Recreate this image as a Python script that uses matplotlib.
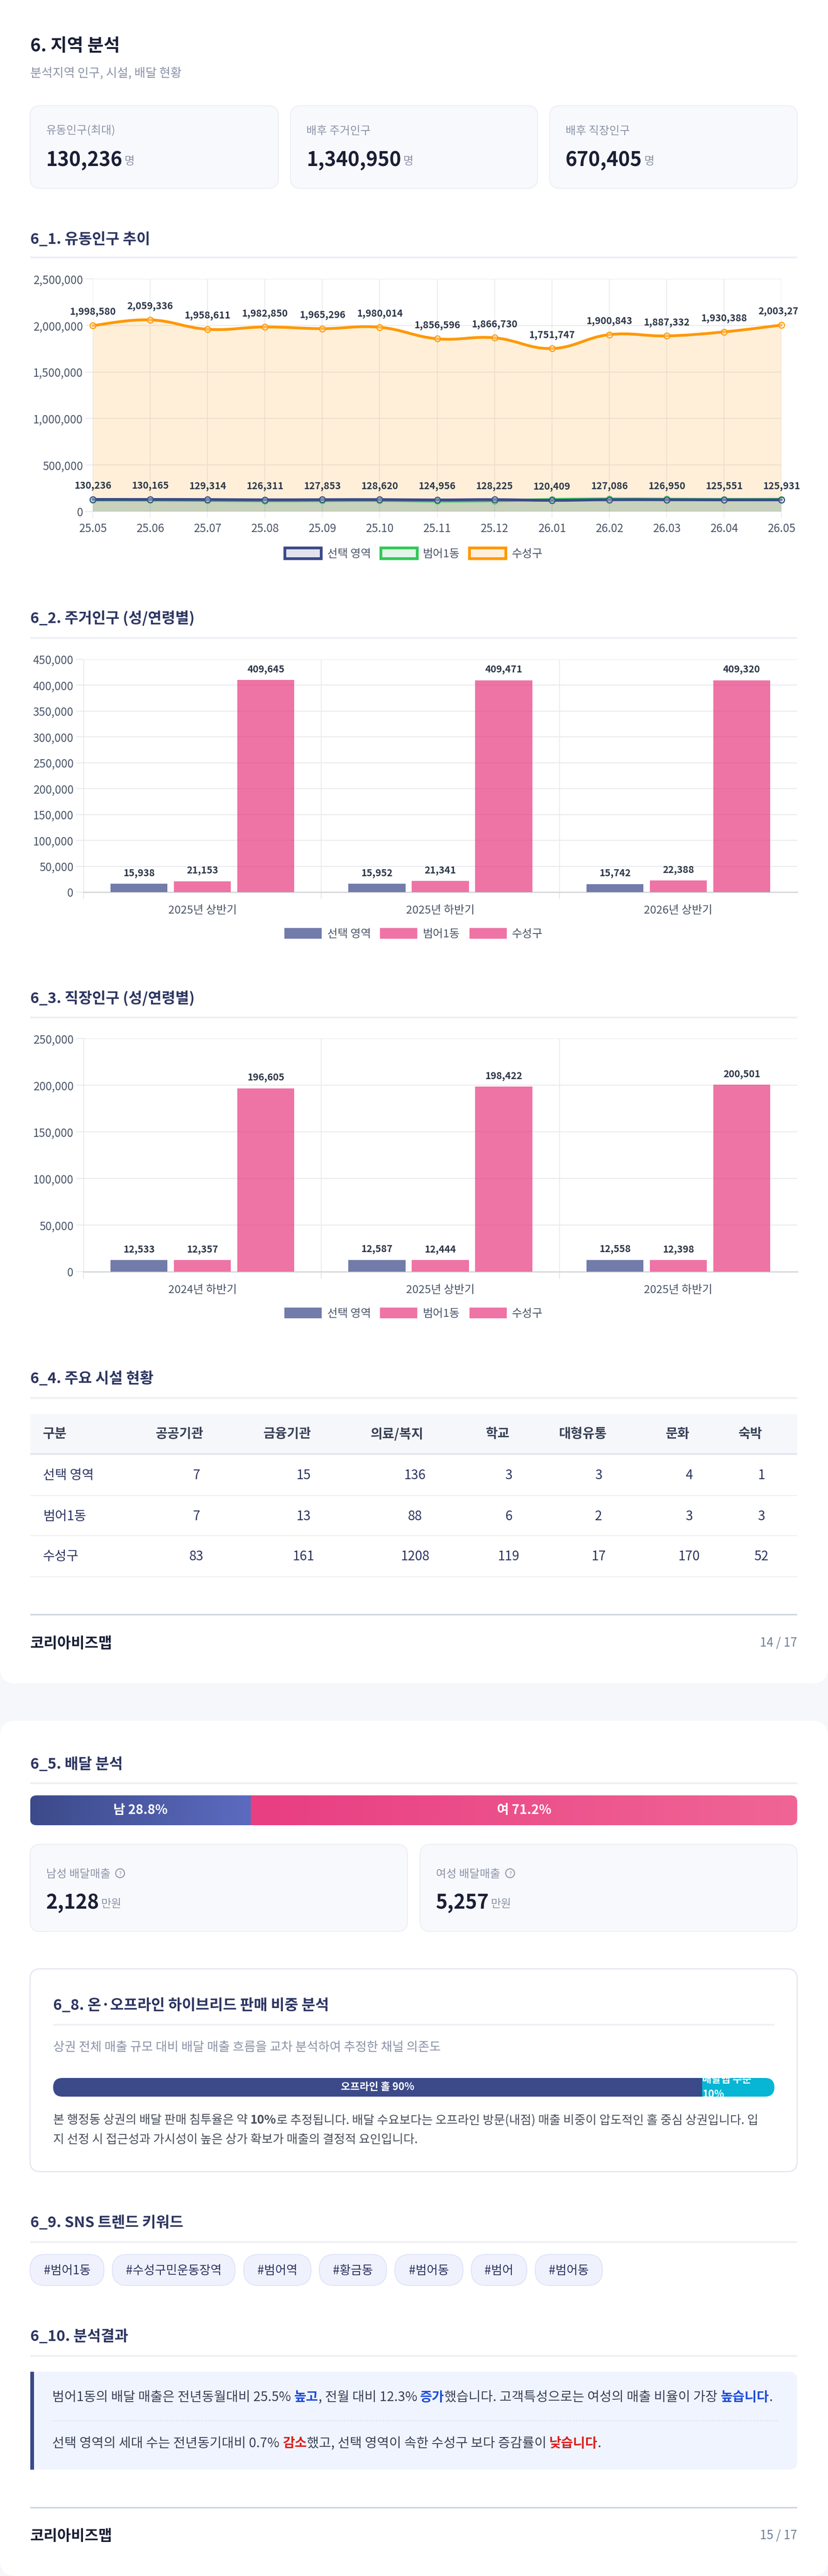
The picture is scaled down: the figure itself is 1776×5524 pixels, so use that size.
import numpy as np
import matplotlib
matplotlib.use('Agg')
import matplotlib.pyplot as plt
from matplotlib.patches import FancyBboxPatch, Rectangle, Circle, PathPatch
from matplotlib.path import Path
from matplotlib.transforms import Bbox

plt.rcParams['font.family'] = ['Noto Sans CJK KR', 'DejaVu Sans']

# data
months = ['25.05', '25.06', '25.07', '25.08', '25.09', '25.10', '25.11', '25.12', '26.01', '26.02', '26.03', '26.04', '26.05']
float_selected = [130236, 130165, 129314, 126311, 127853, 128620, 124956, 128225, 120409, 127086, 126950, 125551, 125931]
float_dong = [124000, 123000, 120000, 116000, 118000, 120000, 113000, 117000, 130000, 135000, 133000, 131000, 132000]
float_gu = [1998580, 2059336, 1958611, 1982850, 1965296, 1980014, 1856596, 1866730, 1751747, 1900843, 1887332, 1930388, 2003270]

legend_names = ['선택 영역', '범어1동', '수성구']

resident_periods = ['2025년 상반기', '2025년 하반기', '2026년 상반기']
resident_selected = [15938, 15952, 15742]
resident_dong = [21153, 21341, 22388]
resident_gu = [409645, 409471, 409320]

worker_periods = ['2024년 하반기', '2025년 상반기', '2025년 하반기']
worker_selected = [12533, 12587, 12558]
worker_dong = [12357, 12444, 12398]
worker_gu = [196605, 198422, 200501]

table_head = ['구분', '공공기관', '금융기관', '의료/복지', '학교', '대형유통', '문화', '숙박']
table_names = ['선택 영역', '범어1동', '수성구']
table_selected = [7, 15, 136, 3, 3, 4, 1]
table_dong = [7, 13, 88, 6, 2, 3, 3]
table_gu = [83, 161, 1208, 119, 17, 170, 52]

gender_share = [28.8, 71.2]
channel_share = [90, 10]
keywords = ['#범어1동', '#수성구민운동장역', '#범어역', '#황금동', '#범어동', '#범어', '#범어동']

W, H = 1776, 5524
NAVY = '#3c4a8a'
ORANGE = '#ff9800'
GREEN = '#34c759'
PINK = '#e83e82'
TITLE = '#2d3561'
DARK = '#1a1f36'
GRAY = '#8b93a7'
TICK = '#4a5568'
LABEL = '#2d3748'
GRID = '#eaebef'

fig = plt.figure(figsize=(W / 100, H / 100), dpi=100, facecolor='#f5f7fb')
ov = fig.add_axes([0, 0, 1, 1])
ov.set_xlim(0, W)
ov.set_ylim(H, 0)
ov.axis('off')


def txt(x, y, s, size, color=DARK, weight='normal', ha='left', **kw):
    # y is the visual middle of the glyphs, size is in pixels
    return ov.text(x, y + 0.36 * size, s, fontsize=size * 0.72, color=color, fontweight=weight,
                   ha=ha, va='baseline', **kw)


def right_edge(t):
    return ov.transData.inverted().transform(t.get_window_extent(fig.canvas.get_renderer()).p1)[0]


def rich(x, y, parts, size):
    for s, color, weight in parts:
        x = right_edge(txt(x, y, s, size, color, weight))


def rbox(x0, y0, x1, y1, r, fc, ec='none', lw=0, z=1):
    p = FancyBboxPatch((x0, y0), x1 - x0, y1 - y0, boxstyle=f'round,pad=0,rounding_size={r}',
                       fc=fc, ec=ec, lw=lw * 0.72, zorder=z)
    ov.add_patch(p)
    return p


def rect(x0, y0, x1, y1, fc, ec='none', lw=0, z=2):
    ov.add_patch(Rectangle((x0, y0), x1 - x0, y1 - y0, fc=fc, ec=ec, lw=lw * 0.72, zorder=z))


def section(y, line_y, s, x0=64.5, x1=1710):
    txt(x0, y, s, 32, TITLE, 'bold')
    rect(x0, line_y - 2, x1, line_y + 2, '#eff0f5')


def chart_axes(x0, y0, x1, y1):
    ax = fig.add_axes([x0 / W, 1 - y1 / H, (x1 - x0) / W, (y1 - y0) / H])
    ax.patch.set_alpha(0)
    for s in ax.spines.values():
        s.set_visible(False)
    ax.set_axisbelow(True)
    return ax


def smooth_path(xs, ys, base=None, t=0.2):
    # bezier through the points, same idea as a chart.js line with tension
    verts = [(xs[0], ys[0])]
    codes = [Path.MOVETO]
    n = len(xs)
    for i in range(n - 1):
        a = max(i - 1, 0)
        b = min(i + 2, n - 1)
        verts.append((xs[i] + t * (xs[i + 1] - xs[a]), ys[i] + t * (ys[i + 1] - ys[a])))
        verts.append((xs[i + 1] - t * (xs[b] - xs[i]), ys[i + 1] - t * (ys[b] - ys[i])))
        verts.append((xs[i + 1], ys[i + 1]))
        codes += [Path.CURVE4] * 3
    if base is not None:
        verts += [(xs[-1], base), (xs[0], base), (xs[0], ys[0])]
        codes += [Path.LINETO, Path.LINETO, Path.CLOSEPOLY]
    return Path(verts, codes)


# page cards
rbox(0, -60, W, 3610, 34, 'white')
rbox(0, 3690, W, H, 34, 'white')

# header
txt(64.5, 96, '6. 지역 분석', 38, DARK, 'bold')
txt(64.5, 157, '분석지역 인구, 시설, 배달 현황', 26, GRAY)

cards = [(64.5, 597, '유동인구(최대)', '130,236', '명'),
         (623, 1153, '배후 주거인구', '1,340,950', '명'),
         (1179, 1710, '배후 직장인구', '670,405', '명')]
for x0, x1, name, val, unit in cards:
    rbox(x0, 226.5, x1, 404, 22, '#f8f9fd', '#eceef4', 2)
    txt(x0 + 34, 279, name, 24, GRAY)
    x_end = right_edge(txt(x0 + 34, 340, val, 42.5, DARK, 'bold'))
    txt(x_end + 4, 344, unit, 24, GRAY)

# 6_1 floating population
section(511, 552, '6_1. 유동인구 추이')
ax = chart_axes(199, 598, 1676, 1097)
xs = np.arange(len(months))
ax.set_xlim(0, len(months) - 1)
ax.set_ylim(0, 2500000)
series = [(float_gu, ORANGE), (float_dong, GREEN), (float_selected, NAVY)]
for z, (vals, col) in enumerate(series):
    ax.add_patch(PathPatch(smooth_path(xs, vals, base=0), fc=col, ec='none', alpha=0.15, zorder=1 + z * 0.1))
    ax.add_patch(PathPatch(smooth_path(xs, vals), fc='none', ec=col, lw=4.3, zorder=3 + z, clip_on=False,
                           capstyle='round'))
    ax.plot(xs, vals, 'o', ms=9, mfc=(1, 1, 1, 0.3), mec=col, mew=1.6, zorder=3.5 + z, clip_on=False)
ax.set_xticks(xs)
ax.set_xticklabels(months)
ax.set_yticks([0, 500000, 1000000, 1500000, 2000000, 2500000])
ax.set_yticklabels([f'{v:,}' for v in [0, 500000, 1000000, 1500000, 2000000, 2500000]])
ax.grid(True, color=GRID, lw=1.5)
ax.grid(True, axis='x', color='#e6e7eb', lw=1.1)
ax.tick_params(axis='y', length=11.5, width=1.5, color=GRID, labelsize=17.3, labelcolor=TICK, pad=3.5)
ax.tick_params(axis='x', length=10, width=1.1, color=GRID, labelsize=17.3, labelcolor=TICK, pad=7)
# the labels run into the canvas edge on the right, the top one is cut there
for vals, edge in ((float_gu, 1710.5), (float_selected, 1716)):
    for x, v in zip(xs, vals):
        a = ax.annotate(f'{v:,}', (x, v), xytext=(0, 21), textcoords='offset points', ha='center', va='center',
                        fontsize=14.9, fontweight='bold', color=LABEL, annotation_clip=False, zorder=9)
        a.set_clip_on(True)
        a.set_clip_box(Bbox([[0, 0], [edge, H]]))

for (x0, x1, tx), name, col in zip([(608, 692, 702), (814, 898, 907), (1004, 1088, 1098)], legend_names,
                                   [NAVY, GREEN, ORANGE]):
    ov.add_patch(Rectangle((x0 + 3, 1175), x1 - x0 - 6, 23, fc=matplotlib.colors.to_rgba(col, 0.15), ec=col, lw=4.3,
                           zorder=2))
    txt(tx, 1186, name, 24, TICK)


def bar_chart(top, zero, ymax, step, periods, groups):
    ax = chart_axes(179, top, 1710, zero)
    ax.set_xlim(0, 3)
    ax.set_ylim(0, ymax)
    cols = [NAVY, PINK, PINK]
    for j, (vals, col) in enumerate(zip(groups, cols)):
        pos = [i + 0.5 + (j - 1) * 0.2665 for i in range(3)]
        ax.bar(pos, vals, width=0.24, color=col, alpha=0.72, zorder=3)
        for p, v in zip(pos, vals):
            ax.annotate(f'{v:,}', (p, v), xytext=(0, 16.5), textcoords='offset points', ha='center', va='center',
                        fontsize=14.9, fontweight='bold', color=LABEL, annotation_clip=False)
    ticks = list(range(0, ymax + 1, step))
    ax.set_yticks(ticks)
    ax.set_yticklabels([f'{v:,}' for v in ticks])
    ax.set_xticks([0, 1, 2])
    ax.set_xticklabels([])
    ax.grid(True, axis='y', color=GRID, lw=1.5)
    ax.grid(True, axis='x', color='#e6e7eb', lw=1.1)
    ax.axhline(0, color='#d9dade', lw=2.2, zorder=2, clip_on=False)
    ax.axvline(0, color='#d5d7dc', lw=1.1, zorder=1)
    ax.tick_params(axis='y', length=11.5, width=1.5, color=GRID, labelsize=17.3, labelcolor=TICK, pad=4)
    ax.tick_params(axis='x', length=10.8, width=1.1, color='#e0e1e5')
    for i, name in enumerate(periods):
        txt(179 + (i + 0.5) * 510.3, zero + 37, name, 24, TICK, ha='center')
    ly = zero + 88
    for (x0, x1, tx), name, col in zip([(610, 690, 702), (815, 895, 907), (1007, 1087, 1098)], legend_names, cols):
        ov.add_patch(Rectangle((x0, ly - 11.5), x1 - x0, 23.5, fc=matplotlib.colors.to_rgba(col, 0.72), zorder=2))
        txt(tx, ly, name, 24, TICK)


# 6_2, 6_3
section(1324, 1368, '6_2. 주거인구 (성/연령별)')
bar_chart(1413.6, 1913, 450000, 50000, resident_periods, [resident_selected, resident_dong, resident_gu])
section(2139, 2182, '6_3. 직장인구 (성/연령별)')
bar_chart(2227, 2727, 250000, 50000, worker_periods, [worker_selected, worker_dong, worker_gu])

# 6_4 table
section(2954, 2998, '6_4. 주요 시설 현황')
rect(64.5, 3032, 1710, 3116, '#f5f7fb')
rect(64.5, 3116, 1710, 3120, '#e2e8f0')
head_x = [92, 334, 565, 795, 1042, 1198, 1428, 1584]
val_x = [421, 651, 890, 1091, 1284, 1478, 1633]
for x, s in zip(head_x, table_head):
    txt(x, 3073, s, 28, '#3a4257', 'bold')
row_y = [3162, 3250, 3336]
line_y = [3207, 3293, 3381]
for y, ly, name, vals in zip(row_y, line_y, table_names, [table_selected, table_dong, table_gu]):
    txt(92, y, name, 28, TITLE)
    for x, v in zip(val_x, vals):
        txt(x, y, str(v), 28, TITLE, ha='center')
    rect(64.5, ly - 1, 1710, ly + 1, '#eff0f5')


def footer(line, y, page):
    rect(64.5, line - 1.5, 1710, line + 1.5, '#cbd5e0')
    txt(64.5, y, '코리아비즈맵', 32, DARK, 'bold')
    txt(1710, y, page, 26, '#718096', ha='right')


footer(3462.5, 3522, '14 / 17')

# 6_5 delivery
section(3781, 3824, '6_5. 배달 분석')
clip_patch = rbox(64.5, 3850, 1710, 3914, 14, 'none')
ax = chart_axes(64.5, 3850, 1710, 3914)
grad = np.linspace(0, 1, 256).reshape(1, -1)
male = matplotlib.colors.LinearSegmentedColormap.from_list('m', ['#3c4a8a', '#5c6bc0'])
female = matplotlib.colors.LinearSegmentedColormap.from_list('f', ['#e83e82', '#f06595'])
im1 = ax.imshow(grad, extent=(0, gender_share[0], 0, 1), cmap=male, aspect='auto')
im2 = ax.imshow(grad, extent=(gender_share[0], 100, 0, 1), cmap=female, aspect='auto')
ax.set_xlim(0, 100)
ax.set_ylim(0, 1)
ax.set_xticks([])
ax.set_yticks([])
im1.set_clip_path(clip_patch)
im2.set_clip_path(clip_patch)
ax.text(gender_share[0] / 2, 0.5, f'남 {gender_share[0]}%', color='white', fontsize=20, fontweight='bold', ha='center', va='center')
ax.text(gender_share[0] + gender_share[1] / 2, 0.5, f'여 {gender_share[1]}%', color='white', fontsize=20, fontweight='bold', ha='center', va='center')

for x0, x1, name, val in [(64.5, 874, '남성 배달매출', '2,128'), (901, 1710, '여성 배달매출', '5,257')]:
    rbox(x0, 3955, x1, 4142, 22, '#f8f9fd', '#eceef4', 2)
    x_end = right_edge(txt(x0 + 34, 4017, name, 24, GRAY))
    ov.add_patch(Circle((x_end + 21, 4017), 9.5, fc='none', ec=GRAY, lw=1.5, zorder=3))
    txt(x_end + 21, 4017, '?', 13, GRAY, ha='center')
    x_end = right_edge(txt(x0 + 34, 4077, val, 42.5, DARK, 'bold'))
    txt(x_end + 4, 4081, '만원', 24, GRAY)

# 6_8 channel split
rbox(64.5, 4222, 1710, 4657, 22, 'white', '#e2e6f0', 2.5)
section(4298, 4342, '6_8. 온·오프라인 하이브리드 판매 비중 분석', 114, 1661)
txt(114, 4388, '상권 전체 매출 규모 대비 배달 매출 흐름을 교차 분석하여 추정한 채널 의존도', 26.6, GRAY)
clip_patch = rbox(114, 4456, 1661, 4496, 20, 'none')
ax = chart_axes(114, 4456, 1661, 4496)
ax.set_xlim(0, 100)
ax.set_ylim(0, 1)
ax.set_xticks([])
ax.set_yticks([])
b1 = ax.barh(0.5, channel_share[0], height=1, color=NAVY)[0]
b2 = ax.barh(0.5, channel_share[1], left=channel_share[0], height=1, color='#06b6d4')[0]
b1.set_clip_path(clip_patch)
b2.set_clip_path(clip_patch)
ax.text(channel_share[0] / 2, 0.5, f'오프라인 홀 {channel_share[0]}%', color='white', fontsize=15.8, fontweight='bold', ha='center', va='center')
# label wraps in the narrow segment and gets cut by the bar
for y, s in [(4459, '배달앱 수준'), (4492, f'{channel_share[1]}%')]:
    t = ax.text(channel_share[0], 1 - (y - 4456) / 40, s, color='white', fontsize=15.8, fontweight='bold', ha='left', va='center')
    t.set_clip_on(True)
    t.set_clip_box(Bbox([[1507, H - 4496], [1661, H - 4456]]))

BODY = '#4a4f5c'
rich(114, 4545, [('본 행정동 상권의 배달 판매 침투율은 약 ', BODY, 'normal'), ('10%', BODY, 'bold'),
                 ('로 추정됩니다. 배달 수요보다는 오프라인 방문(내점) 매출 비중이 압도적인 홀 중심 상권입니다. 입', BODY, 'normal')], 26)
txt(114, 4587, '지 선정 시 접근성과 가시성이 높은 상가 확보가 매출의 결정적 요인입니다.', 26, BODY)

# 6_9 keywords
section(4764, 4808, '6_9. SNS 트렌드 키워드')
chip_x = [(64.5, 223), (241, 504), (523, 667), (685, 829), (847, 993), (1011, 1130), (1148, 1292)]
for (x0, x1), word in zip(chip_x, keywords):
    rbox(x0, 4834.5, x1, 4901, 32, '#eff2fd', '#dfe4f6', 2)
    txt((x0 + x1) / 2, 4868, word, 26, TITLE, ha='center', zorder=3)

# 6_10 result
section(5008, 5052, '6_10. 분석결과')
rbox(64.5, 5086, 1710, 5296, 18, '#f0f4ff')
rect(64.5, 5086, 72.5, 5296, NAVY)
ov.plot([112, 1671], [5191, 5191], color='#dde2ee', lw=1.4, ls=(0, (2, 1.5)), zorder=3)
TEXT = '#3a4257'
BLUE = '#1d4ed8'
RED = '#dc1f1f'
rich(112, 5139, [('범어1동의 배달 매출은 전년동월대비 25.5% ', TEXT, 'normal'), ('높고', BLUE, 'bold'),
                 (', 전월 대비 12.3% ', TEXT, 'normal'), ('증가', BLUE, 'bold'),
                 ('했습니다. 고객특성으로는 여성의 매출 비율이 가장 ', TEXT, 'normal'), ('높습니다', BLUE, 'bold'),
                 ('.', TEXT, 'normal')], 28.3)
rich(112, 5238, [('선택 영역의 세대 수는 전년동기대비 0.7% ', TEXT, 'normal'), ('감소', RED, 'bold'),
                 ('했고, 선택 영역이 속한 수성구 보다 증감률이 ', TEXT, 'normal'), ('낮습니다', RED, 'bold'),
                 ('.', TEXT, 'normal')], 28.3)

footer(5377, 5436, '15 / 17')

fig.savefig('out.png', dpi=100, facecolor=fig.get_facecolor())
